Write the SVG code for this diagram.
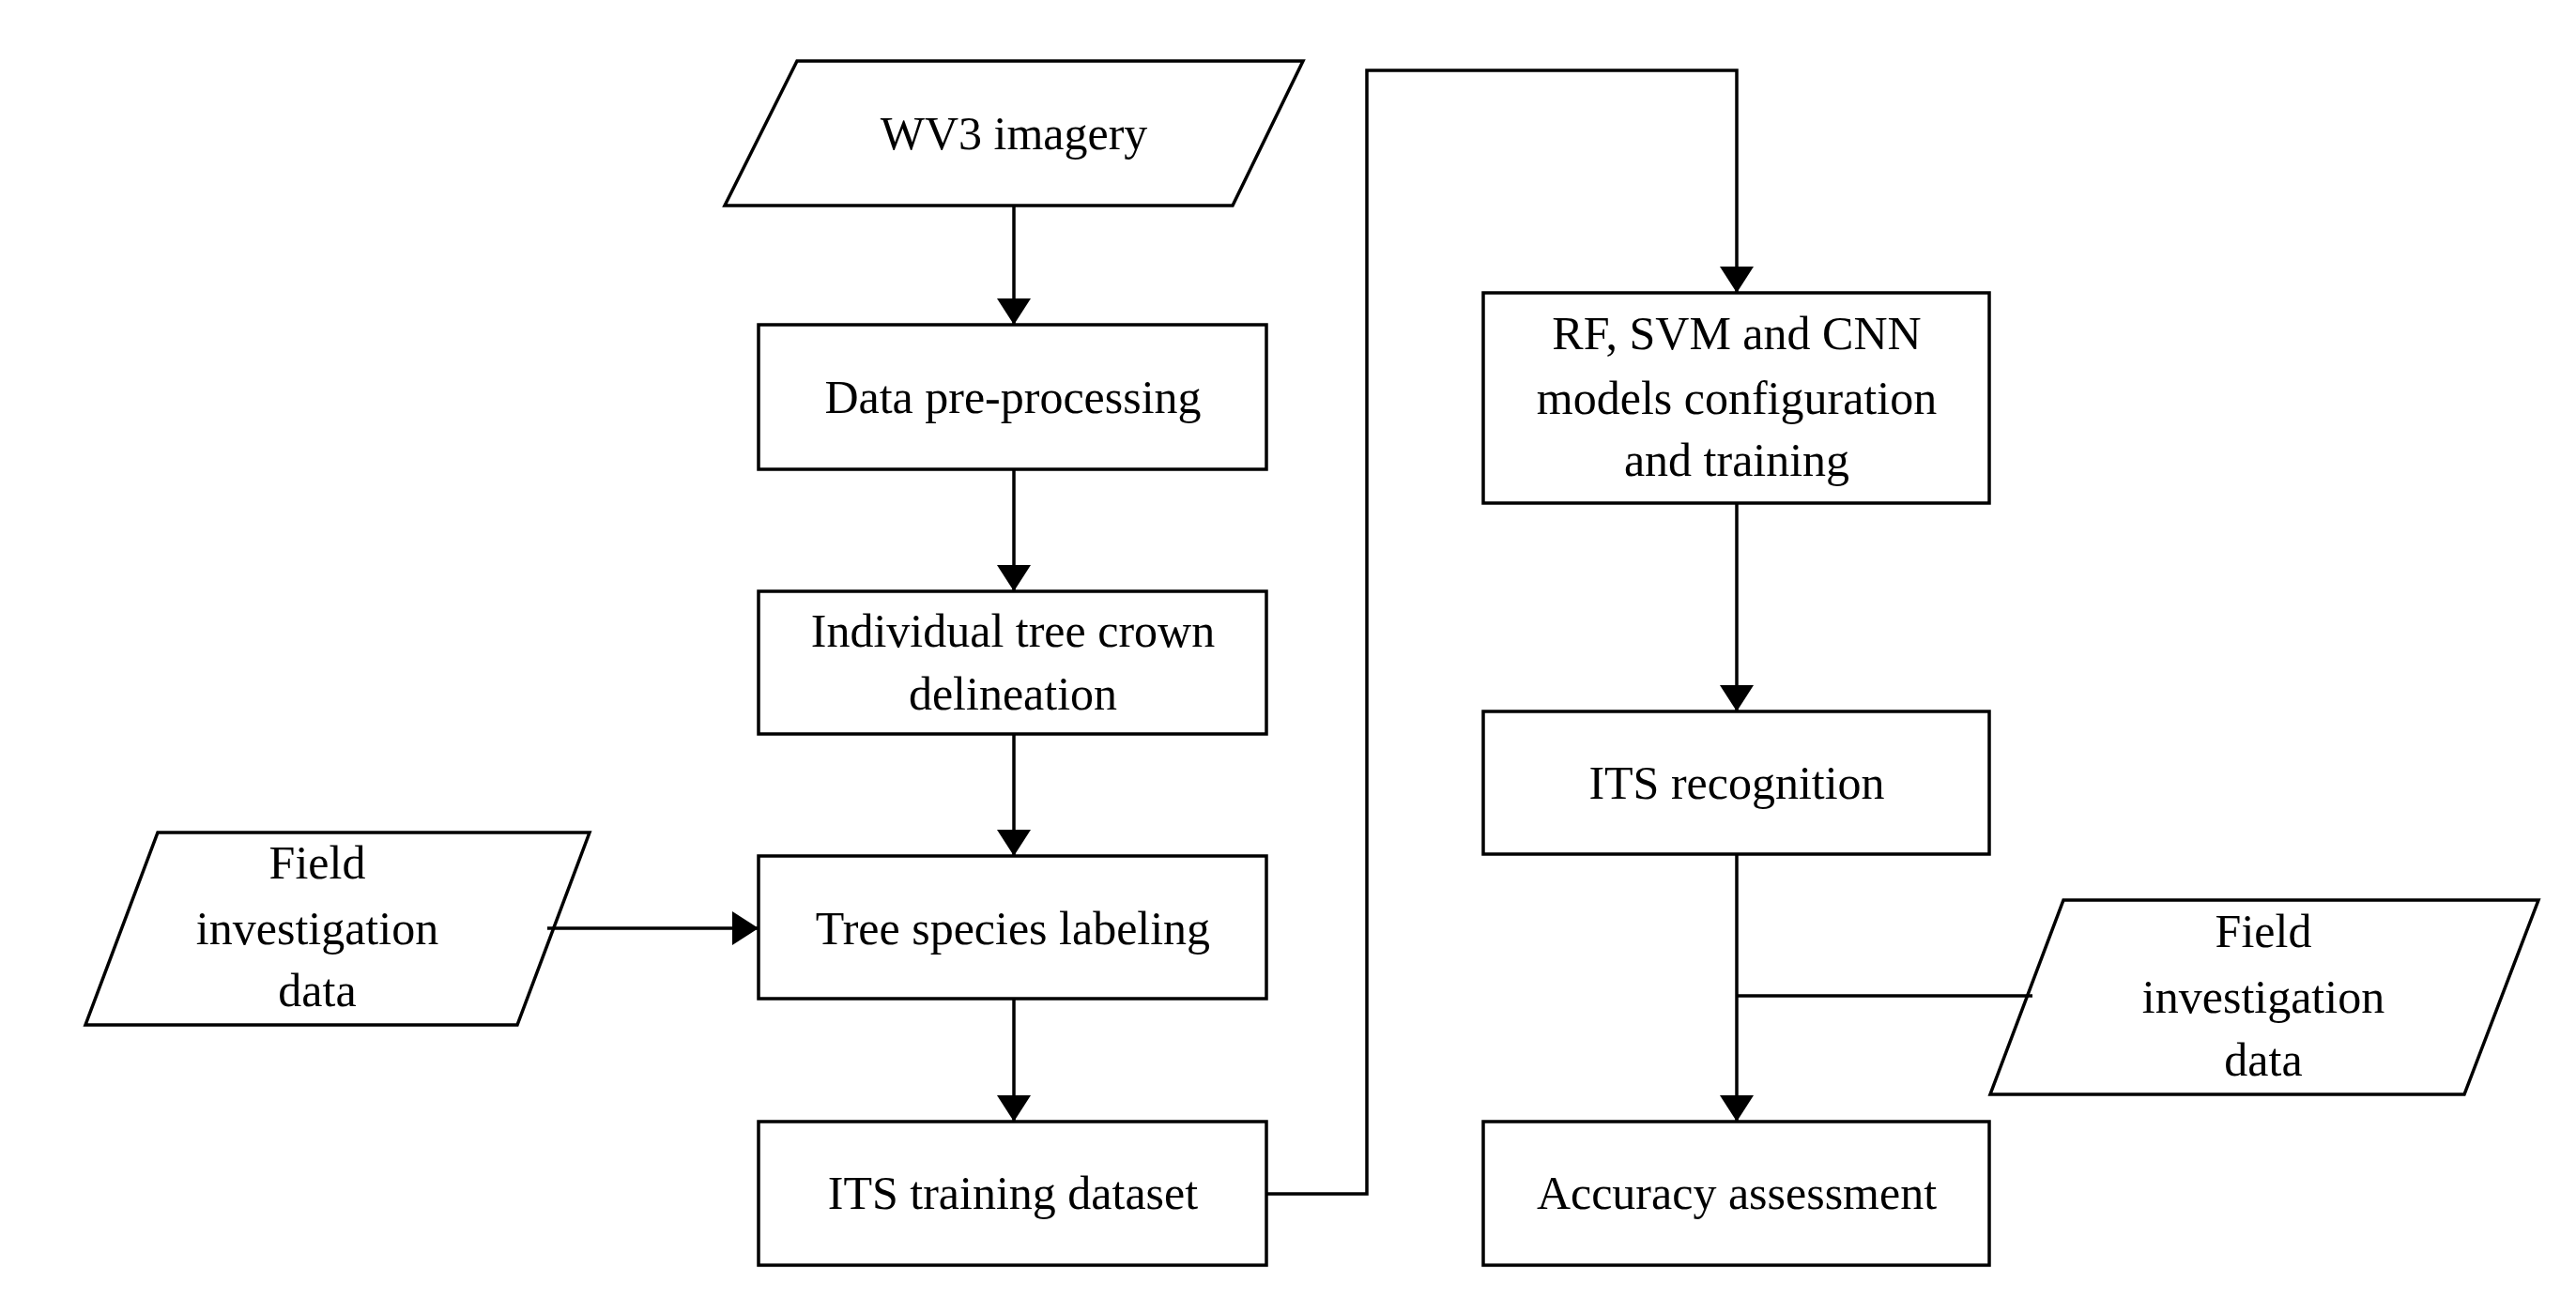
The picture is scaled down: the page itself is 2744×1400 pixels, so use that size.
<svg xmlns="http://www.w3.org/2000/svg" width="2744" height="1400" viewBox="0 0 2744 1400">
<style>
.s{fill:#fff;stroke:#000;stroke-width:3.5}
.l{fill:none;stroke:#000;stroke-width:3.5}
text{font-family:"Liberation Serif","Times New Roman",serif;font-size:50px;text-anchor:middle;dominant-baseline:central;fill:#000}
</style>
<defs><marker id="a" markerWidth="10" markerHeight="10" refX="10" refY="5" orient="auto" markerUnits="userSpaceOnUse" viewBox="0 0 10 10"><path d="M0,0L10,5L0,10z"/></marker>
<marker id="b" viewBox="0 0 10 10" refX="10" refY="5" markerWidth="28" markerHeight="36" orient="auto" markerUnits="userSpaceOnUse" preserveAspectRatio="none"><path d="M0,0L10,5L0,10z"/></marker></defs>
<rect width="2744" height="1400" fill="#fff"/>
<g id="wv3"><polygon class="s" points="849,65 1388,65 1313,219 772,219"/><text x="1080" y="142">WV3 imagery</text></g>
<g id="pre"><rect class="s" x="808" y="346" width="541" height="154"/><text x="1079" y="423">Data pre-processing</text></g>
<g id="itc"><rect class="s" x="808" y="630" width="541" height="152"/><text x="1079" y="672">Individual tree crown</text><text x="1079" y="739">delineation</text></g>
<g id="label"><rect class="s" x="808" y="912" width="541" height="152"/><text x="1079" y="989">Tree species labeling</text></g>
<g id="train"><rect class="s" x="808" y="1195" width="541" height="153"/><text x="1079" y="1271">ITS training dataset</text></g>
<g id="field1"><polygon class="s" points="628,887 168,887 91,1092 551,1092"/><text x="338" y="919">Field</text><text x="338" y="989">investigation</text><text x="338" y="1055">data</text></g>
<g id="rf"><rect class="s" x="1580" y="312" width="539" height="224"/><text x="1850" y="355">RF, SVM and CNN</text><text x="1850" y="424">models configuration</text><text x="1850" y="490">and training</text></g>
<g id="rec"><rect class="s" x="1580" y="758" width="539" height="152"/><text x="1850" y="834">ITS recognition</text></g>
<g id="acc"><rect class="s" x="1580" y="1195" width="539" height="153"/><text x="1850" y="1271">Accuracy assessment</text></g>
<g id="field2"><polygon class="s" points="2198,959 2704,959 2625,1166 2120,1166"/><text x="2411" y="992">Field</text><text x="2411" y="1062">investigation</text><text x="2411" y="1129">data</text></g>
<g id="connectors">
<path class="l" d="M1080,219V346" marker-end="url(#b)"/>
<path class="l" d="M1080,500V630" marker-end="url(#b)"/>
<path class="l" d="M1080,782V912" marker-end="url(#b)"/>
<path class="l" d="M1080,1064V1195" marker-end="url(#b)"/>
<path class="l" d="M583,989H808" marker-end="url(#b)"/>
<path class="l" d="M1349,1272H1456V75H1850V312" marker-end="url(#b)"/>
<path class="l" d="M1850,536V758" marker-end="url(#b)"/>
<path class="l" d="M1850,910V1195" marker-end="url(#b)"/>
<path class="l" d="M1850,1061H2165"/>
</g>
</svg>
